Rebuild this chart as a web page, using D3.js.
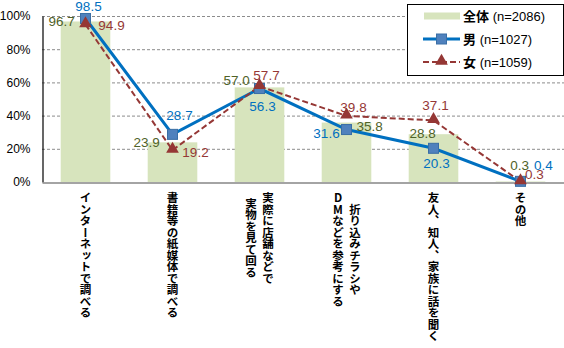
<!DOCTYPE html>
<html>
<head>
<meta charset="utf-8">
<script src="https://cdn.jsdelivr.net/npm/d3@7"></script>
<style>
  html, body { margin: 0; padding: 0; background: #fff; }
  svg { display: block; }
</style>
</head>
<body>
<svg id="chart" width="564" height="348"></svg>
<script>
// Categories (multi-line labels are split with "\n")
const categories = [
  "インターネットで調べる",
  "書籍等の紙媒体で調べる",
  "実際に店舗などで\n実物を見て回る",
  "折り込みチラシや\nDMなどを参考にする",
  "友人、知人、家族に話を聞く",
  "その他"
];
const totalValues = [96.7, 23.9, 57.0, 35.8, 28.8, 0.3];
const maleValues = [98.5, 28.7, 56.3, 31.6, 20.3, 0.4];
const femaleValues = [94.9, 19.2, 57.7, 39.8, 37.1, 0.3];
const yTicks = [0, 20, 40, 60, 80, 100];
const legendLabels = ["全体 (n=2086)", "男 (n=1027)", "女 (n=1059)"];

// Label nudges in pixels relative to each mark's anchor point
// (overall labels anchor at the bar's top-left corner, the rest at the marker)
const totalLabelShift = [[1, 0], [-1, 0], [2, -7], [48, 4], [14, -1], [24, -16]];
const maleLabelShift = [[3, -12], [7, -19], [3, 18], [-20, 4], [3, 15], [23, -16]];
const femaleLabelShift = [[26, 1], [23, 2], [7, -11], [7, -9], [2, -15], [14, -7]];

const svg = d3.select("#chart");
const margin = { left: 42, right: 0, top: 16 };
const W = 564;
const plotBottom = 182;

const x = d3.scaleBand()
  .domain(d3.range(categories.length))
  .range([margin.left, W - margin.right])
  .paddingInner(0.43)
  .paddingOuter(0.215);

const y = d3.scaleLinear().domain([0, 100]).range([plotBottom, margin.top]);

const cx = i => x(i) + x.bandwidth() / 2;

const colTotal = "#d7e4bd", colTotalText = "#4f6228";
const colMale = "#0070c0", colMaleMarker = "#4f81bd";
const colFemale = "#953735";
const numFont = "'Liberation Sans', Arial, sans-serif";
const jpFont = "'Noto Sans CJK JP', sans-serif";

// Gridlines
svg.append("g")
  .selectAll("line")
  .data(yTicks.filter(t => t > 0))
  .join("line")
  .attr("x1", margin.left).attr("x2", W)
  .attr("y1", d => y(d) + 0.5).attr("y2", d => y(d) + 0.5)
  .attr("stroke", "#8c8c8c")
  .attr("stroke-width", 1)
  .attr("stroke-dasharray", "3,2");

// Bars (overall)
svg.append("g")
  .selectAll("rect")
  .data(totalValues)
  .join("rect")
  .attr("x", (d, i) => x(i))
  .attr("width", x.bandwidth())
  .attr("y", d => y(d))
  .attr("height", d => plotBottom - y(d))
  .attr("fill", colTotal);

// Axes
const yAxis = d3.axisLeft(y).tickValues(yTicks).tickSize(0).tickPadding(12)
  .tickFormat(d => d + "%");
const gy = svg.append("g").attr("transform", `translate(${margin.left + 0.5},0)`).call(yAxis);
gy.select(".domain").attr("stroke", "#000").attr("stroke-width", 1.2);
gy.selectAll("text").attr("font-family", numFont).attr("font-size", 12).attr("fill", "#000");

const xAxis = d3.axisBottom(x).tickSize(0).tickFormat("");
const gx = svg.append("g").attr("transform", `translate(0,${plotBottom + 0.5})`).call(xAxis);
gx.select(".domain").attr("stroke", "#868686").attr("stroke-width", 1.5);

// Lines
const line = (vals) => d3.line().x((d, i) => cx(i)).y(d => y(d))(vals);

svg.append("path")
  .attr("d", line(maleValues))
  .attr("fill", "none")
  .attr("stroke", colMale)
  .attr("stroke-width", 3);

svg.append("path")
  .attr("d", line(femaleValues))
  .attr("fill", "none")
  .attr("stroke", colFemale)
  .attr("stroke-width", 2)
  .attr("stroke-dasharray", "6,3");

// Markers
const sq = 10;
svg.append("g")
  .selectAll("rect")
  .data(maleValues)
  .join("rect")
  .attr("x", (d, i) => cx(i) - sq / 2)
  .attr("y", d => y(d) - sq / 2)
  .attr("width", sq).attr("height", sq)
  .attr("fill", colMaleMarker)
  .attr("stroke", "#3a6ea5")
  .attr("stroke-width", 1);

const tri = d3.symbol().type(d3.symbolTriangle).size(70);
svg.append("g")
  .selectAll("path")
  .data(femaleValues)
  .join("path")
  .attr("d", tri)
  .attr("transform", (d, i) => `translate(${cx(i)},${y(d) - 1})`)
  .attr("fill", colFemale);

// Value labels
function valueLabels(vals, shifts, anchorX, color) {
  svg.append("g")
    .selectAll("text")
    .data(vals)
    .join("text")
    .attr("x", (d, i) => anchorX(i) + shifts[i][0])
    .attr("y", (d, i) => y(d) + shifts[i][1])
    .attr("dy", "0.35em")
    .attr("text-anchor", "middle")
    .attr("font-family", numFont)
    .attr("font-size", 13.5)
    .attr("fill", color)
    .text(d => d.toFixed(1));
}
valueLabels(totalValues, totalLabelShift, i => x(i), colTotalText);
valueLabels(maleValues, maleLabelShift, cx, colMale);
valueLabels(femaleValues, femaleLabelShift, cx, colFemale);

// Category labels, vertical
const catTop = 192;
const lineGap = 17;
const catG = svg.append("g");
categories.forEach((c, i) => {
  const lines = c.split("\n");
  const n = lines.length;
  const nodes = lines.map((t, k) => catG.append("text")
    .attr("x", cx(i) + ((n - 1) / 2 - k) * lineGap)
    .attr("y", catTop)
    .attr("font-family", jpFont)
    .attr("font-size", 11.5)
    .attr("font-weight", "bold")
    .attr("fill", "#000")
    .style("writing-mode", "vertical-rl")
    .style("text-orientation", "upright")
    .text(t));
  const lens = nodes.map(nd => nd.node().getComputedTextLength());
  const maxLen = d3.max(lens);
  nodes.forEach((nd, k) => nd.attr("y", catTop + (maxLen - lens[k]) / 2));
});

// Legend
const lg = svg.append("g");
lg.append("rect")
  .attr("x", 407.5).attr("y", 4.5)
  .attr("width", 156).attr("height", 71)
  .attr("fill", "#fff").attr("stroke", "#000").attr("stroke-width", 1);
const rowY = [16, 39, 62];
lg.append("rect").attr("x", 424).attr("y", rowY[0] - 3.5).attr("width", 36).attr("height", 7).attr("fill", colTotal);
lg.append("line").attr("x1", 423).attr("x2", 460).attr("y1", rowY[1]).attr("y2", rowY[1])
  .attr("stroke", colMale).attr("stroke-width", 3);
lg.append("rect").attr("x", 441.5 - sq / 2).attr("y", rowY[1] - sq / 2).attr("width", sq).attr("height", sq)
  .attr("fill", colMaleMarker).attr("stroke", "#3a6ea5");
lg.append("line").attr("x1", 423).attr("x2", 460).attr("y1", rowY[2]).attr("y2", rowY[2])
  .attr("stroke", colFemale).attr("stroke-width", 2).attr("stroke-dasharray", "6,3");
lg.append("path").attr("d", tri).attr("transform", `translate(441.5,${rowY[2] - 1})`).attr("fill", colFemale);

legendLabels.forEach((t, k) => {
  const [head, ...rest] = t.split(" ");
  const txt = lg.append("text")
    .attr("x", 463).attr("y", rowY[k]).attr("dy", "0.36em")
    .attr("font-size", 13).attr("fill", "#000");
  txt.append("tspan").attr("font-family", jpFont).attr("font-weight", "bold").text(head);
  txt.append("tspan").attr("font-family", numFont).text(" " + rest.join(" "));
});
</script>
</body>
</html>
